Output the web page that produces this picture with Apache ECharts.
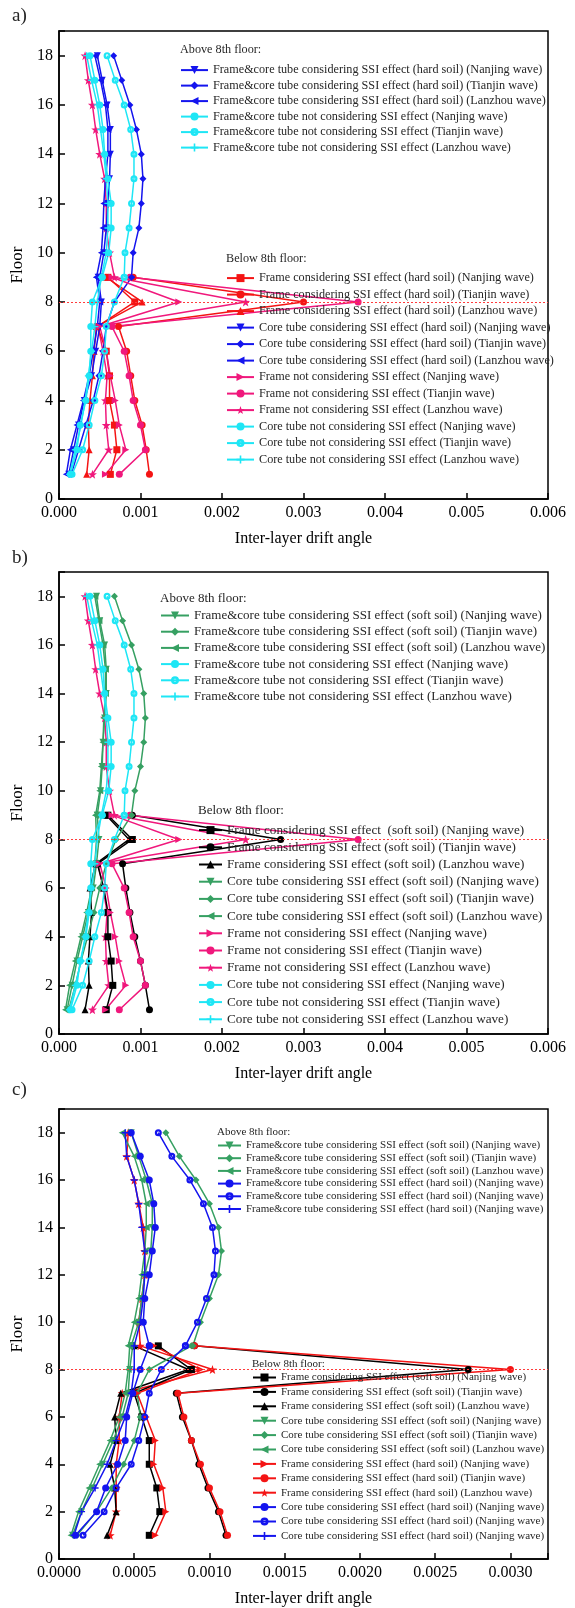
<!DOCTYPE html>
<html style="height: 100%">
<head>
    <meta charset="UTF-8">
    <title>Inter-layer drift angle</title>
    <script src="https://cdn.jsdelivr.net/npm/echarts/dist/echarts.min.js"></script>
    <style>
        #main { width: 575px; height: 1608px; }
    </style>
</head>
<body style="height: 100%; margin: 0; background: #fff">
    <div id="main"></div>
    <script type="text/javascript">
        // floors
        var floorsLow = [1, 2, 3, 4, 5, 6, 7, 8, 9];
        var floorsUp = [9, 10, 11, 12, 13, 14, 15, 16, 17, 18];
        var floorsAll = [1, 2, 3, 4, 5, 6, 7, 8, 9, 10, 11, 12, 13, 14, 15, 16, 17, 18];

        // shared "not considering SSI" results (panels a and b)
        var frameNotNanjing = [0.00057, 0.00082, 0.00074, 0.00069, 0.00063, 0.00058, 0.00050, 0.00147, 0.00065];
        var frameNotTianjin = [0.00074, 0.00106, 0.00100, 0.00091, 0.00086, 0.00080, 0.00065, 0.00367, 0.00087];
        var frameNotLanzhou = [0.00041, 0.00061, 0.00058, 0.00057, 0.00059, 0.00054, 0.00048, 0.00229, 0.00068,
            0.00062, 0.00058, 0.00058, 0.00056, 0.00050, 0.00045, 0.00041, 0.00036, 0.00032];
        var coreNotNanjing = [0.00014, 0.00022, 0.00026, 0.00033, 0.00037, 0.00039, 0.00039, 0.00041, 0.00053];
        var coreNotTianjin = [0.00016, 0.00029, 0.00037, 0.00044, 0.00052, 0.00056, 0.00058, 0.00068, 0.00080];
        var coreNotLanzhou = [0.00013, 0.00020, 0.00027, 0.00032, 0.00036, 0.00040, 0.00044, 0.00047, 0.00052];
        var fcNotNanjing = [0.00053, 0.00061, 0.00064, 0.00064, 0.00060, 0.00056, 0.00054, 0.00050, 0.00044, 0.00038];
        var fcNotTianjin = [0.00080, 0.00081, 0.00086, 0.00089, 0.00092, 0.00092, 0.00088, 0.00080, 0.00069, 0.00059];
        var fcNotLanzhou = [0.00052, 0.00058, 0.00060, 0.00060, 0.00058, 0.00055, 0.00051, 0.00047, 0.00040, 0.00034];

        // panel a: hard soil
        var aFrameHardNanjing = [0.00063, 0.00071, 0.00068, 0.00062, 0.00062, 0.00058, 0.00047, 0.00093, 0.00060];
        var aFrameHardTianjin = [0.00111, 0.00107, 0.00102, 0.00093, 0.00088, 0.00083, 0.00073, 0.00300, 0.00091];
        var aFrameHardLanzhou = [0.00034, 0.00037, 0.00036, 0.00038, 0.00041, 0.00043, 0.00046, 0.00102, 0.00058];
        var aCoreHardNanjing = [0.00012, 0.00018, 0.00024, 0.00031, 0.00040, 0.00045, 0.00050, 0.00052, 0.00048];
        var aCoreHardTianjin = [0.00015, 0.00024, 0.00033, 0.00042, 0.00049, 0.00054, 0.00058, 0.00068, 0.00089];
        var aCoreHardLanzhou = [0.00009, 0.00014, 0.00022, 0.00030, 0.00037, 0.00042, 0.00047, 0.00050, 0.00046];
        var aFcHardNanjing = [0.00050, 0.00055, 0.00058, 0.00060, 0.00062, 0.00063, 0.00063, 0.00059, 0.00053, 0.00047];
        var aFcHardTianjin = [0.00089, 0.00091, 0.00098, 0.00101, 0.00103, 0.00101, 0.00095, 0.00087, 0.00077, 0.00067];
        var aFcHardLanzhou = [0.00046, 0.00052, 0.00054, 0.00055, 0.00057, 0.00060, 0.00060, 0.00057, 0.00051, 0.00044];

        // panel b: soft soil
        var bFrameSoftNanjing = [0.00058, 0.00066, 0.00064, 0.00060, 0.00060, 0.00055, 0.00047, 0.00090, 0.00060];
        var bFrameSoftTianjin = [0.00111, 0.00106, 0.00100, 0.00093, 0.00087, 0.00082, 0.00078, 0.00272, 0.00090];
        var bFrameSoftLanzhou = [0.00032, 0.00037, 0.00036, 0.00038, 0.00040, 0.00038, 0.00045, 0.00086, 0.00058];
        var bCoreSoftNanjing = [0.00010, 0.00016, 0.00022, 0.00029, 0.00036, 0.00042, 0.00046, 0.00049, 0.00047];
        var bCoreSoftTianjin = [0.00012, 0.00020, 0.00027, 0.00035, 0.00043, 0.00050, 0.00058, 0.00070, 0.00089];
        var bCoreSoftLanzhou = [0.00008, 0.00013, 0.00020, 0.00027, 0.00034, 0.00040, 0.00044, 0.00046, 0.00045];
        var bFcSoftNanjing = [0.00047, 0.00051, 0.00053, 0.00054, 0.00056, 0.00058, 0.00058, 0.00056, 0.00050, 0.00046];
        var bFcSoftTianjin = [0.00089, 0.00093, 0.00100, 0.00104, 0.00106, 0.00104, 0.00098, 0.00089, 0.00078, 0.00068];
        var bFcSoftLanzhou = [0.00045, 0.00050, 0.00052, 0.00054, 0.00055, 0.00057, 0.00057, 0.00054, 0.00049, 0.00044];

        // panel c: soft vs hard soil
        var cFrameSoftNanjing = [0.00060, 0.00067, 0.00065, 0.00060, 0.00060, 0.00055, 0.00050, 0.00088, 0.00066];
        var cFrameSoftTianjin = [0.00111, 0.00106, 0.00099, 0.00093, 0.00088, 0.00082, 0.00078, 0.00272, 0.00090];
        var cFrameSoftLanzhou = [0.00032, 0.00038, 0.00037, 0.00034, 0.00038, 0.00037, 0.00041, 0.00086, 0.00050];
        var cCoreSoftNanjing = [0.00009, 0.00015, 0.00022, 0.00029, 0.00036, 0.00042, 0.00046, 0.00047, 0.00049];
        var cCoreSoftTianjin = [0.00012, 0.00025, 0.00035, 0.00043, 0.00050, 0.00054, 0.00052, 0.00060, 0.00088];
        var cCoreSoftLanzhou = [0.00008, 0.00013, 0.00020, 0.00027, 0.00034, 0.00040, 0.00044, 0.00046, 0.00047];
        var cFrameHardNanjing = [0.00064, 0.00071, 0.00069, 0.00063, 0.00064, 0.00058, 0.00052, 0.00094, 0.00063];
        var cFrameHardTianjin = [0.00112, 0.00107, 0.00100, 0.00094, 0.00088, 0.00083, 0.00079, 0.00300, 0.00090];
        var cFrameHardLanzhou = [0.00034, 0.00038, 0.00038, 0.00038, 0.00040, 0.00040, 0.00042, 0.00102, 0.00054,
            0.00053, 0.00055, 0.00057, 0.00057, 0.00056, 0.00053, 0.00050, 0.00045, 0.00046];
        var cCoreHardA = [0.00011, 0.00025, 0.00031, 0.00039, 0.00044, 0.00045, 0.00049, 0.00054, 0.00060];
        var cCoreHardB = [0.00016, 0.00030, 0.00038, 0.00048, 0.00053, 0.00057, 0.00060, 0.00068, 0.00084];
        var cCoreHardC = [0.00010, 0.00015, 0.00024, 0.00032, 0.00038, 0.00044, 0.00048, 0.00050, 0.00050];
        var cFcSoftNanjing = [0.00048, 0.00053, 0.00055, 0.00057, 0.00061, 0.00062, 0.00062, 0.00058, 0.00053, 0.00048];
        var cFcSoftTianjin = [0.00089, 0.00094, 0.00100, 0.00106, 0.00108, 0.00106, 0.00100, 0.00091, 0.00080, 0.00071];
        var cFcSoftLanzhou = [0.00046, 0.00050, 0.00053, 0.00055, 0.00057, 0.00058, 0.00058, 0.00055, 0.00050, 0.00042];
        var cFcHardA = [0.00060, 0.00056, 0.00057, 0.00060, 0.00062, 0.00064, 0.00063, 0.00060, 0.00054, 0.00048];
        var cFcHardB = [0.00084, 0.00092, 0.00098, 0.00103, 0.00104, 0.00102, 0.00096, 0.00087, 0.00075, 0.00066];
        var cFcHardC = [0.00050, 0.00054, 0.00056, 0.00057, 0.00057, 0.00055, 0.00053, 0.00050, 0.00045, 0.00044];

        var FONT = 'Liberation Serif';
        var BLUE = '#1414ee', CYAN = '#1ee6f5', RED = '#f41414', PINK = '#f0187c', GREEN = '#36a062', BLACK = '#000000';
        var SYM = {
            down: 'path://M0,0L10,0L5,9Z',
            left: 'path://M9,0L9,10L0,5Z',
            right: 'path://M0,0L0,10L9,5Z',
            up: 'triangle',
            diamond: 'diamond',
            square: 'rect',
            circle: 'circle',
            ring: 'path://M0,5A5,5,0,1,0,10,5A5,5,0,1,0,0,5ZM3.2,5A1.8,1.8,0,1,1,6.8,5A1.8,1.8,0,1,1,3.2,5Z',
            star: 'path://M10,0L12.35,6.76L19.51,6.91L13.8,11.24L15.88,18.09L10,14L4.12,18.09L6.2,11.24L0.49,6.91L7.65,6.76Z',
            plus: 'path://M4,0H6V4H10V6H6V10H4V6H0V4H4Z'
        };

        var series = [];
        var used = {};
        function addLine(grid, name, color, sym, floors, values, list) {
            var n = name;
            while (used[n]) n += ' ';
            used[n] = true;
            series.push({
                type: 'line',
                name: n,
                xAxisIndex: grid,
                yAxisIndex: grid,
                data: values.map(function (v, i) { return [v, floors[i]]; }),
                symbol: SYM[sym],
                symbolSize: sym === 'star' ? 9 : 7,
                lineStyle: { color: color, width: 1.5 },
                itemStyle: { color: color },
                animation: false
            });
            if (list) list.push(n);
        }

        var legUpA = [], legLowA = [], legUpB = [], legLowB = [], legUpC = [], legLowC = [];

        // ---- panel a ----
        var hide = [];
        addLine(0, 'Frame not considering SSI effect (Lanzhou wave)', PINK, 'star', floorsAll, frameNotLanzhou, hide);
        addLine(0, 'Frame considering SSI effect (hard soil) (Nanjing wave)', RED, 'square', floorsLow, aFrameHardNanjing, legLowA);
        addLine(0, 'Frame considering SSI effect (hard soil) (Tianjin wave)', RED, 'circle', floorsLow, aFrameHardTianjin, legLowA);
        addLine(0, 'Frame considering SSI effect (hard soil) (Lanzhou wave)', RED, 'up', floorsLow, aFrameHardLanzhou, legLowA);
        addLine(0, 'Core tube considering SSI effect (hard soil) (Nanjing wave)', BLUE, 'down', floorsLow, aCoreHardNanjing, legLowA);
        addLine(0, 'Core tube considering SSI effect (hard soil) (Tianjin wave)', BLUE, 'diamond', floorsLow, aCoreHardTianjin, legLowA);
        addLine(0, 'Core tube considering SSI effect (hard soil) (Lanzhou wave)', BLUE, 'left', floorsLow, aCoreHardLanzhou, legLowA);
        addLine(0, 'Frame not considering SSI effect (Nanjing wave)', PINK, 'right', floorsLow, frameNotNanjing, legLowA);
        addLine(0, 'Frame not considering SSI effect (Tianjin wave)', PINK, 'circle', floorsLow, frameNotTianjin, legLowA);
        legLowA.push(hide[0]);
        addLine(0, 'Core tube not considering SSI effect (Nanjing wave)', CYAN, 'circle', floorsLow, coreNotNanjing, legLowA);
        addLine(0, 'Core tube not considering SSI effect (Tianjin wave)', CYAN, 'ring', floorsLow, coreNotTianjin, legLowA);
        addLine(0, 'Core tube not considering SSI effect (Lanzhou wave)', CYAN, 'plus', floorsLow, coreNotLanzhou, legLowA);
        addLine(0, 'Frame&core tube considering SSI effect (hard soil) (Nanjing wave)', BLUE, 'down', floorsUp, aFcHardNanjing, legUpA);
        addLine(0, 'Frame&core tube considering SSI effect (hard soil) (Tianjin wave)', BLUE, 'diamond', floorsUp, aFcHardTianjin, legUpA);
        addLine(0, 'Frame&core tube considering SSI effect (hard soil) (Lanzhou wave)', BLUE, 'left', floorsUp, aFcHardLanzhou, legUpA);
        addLine(0, 'Frame&core tube not considering SSI effect (Nanjing wave)', CYAN, 'circle', floorsUp, fcNotNanjing, legUpA);
        addLine(0, 'Frame&core tube not considering SSI effect (Tianjin wave)', CYAN, 'ring', floorsUp, fcNotTianjin, legUpA);
        addLine(0, 'Frame&core tube not considering SSI effect (Lanzhou wave)', CYAN, 'plus', floorsUp, fcNotLanzhou, legUpA);

        // ---- panel b ----
        hide = [];
        addLine(1, 'Frame not considering SSI effect (Lanzhou wave)', PINK, 'star', floorsAll, frameNotLanzhou, hide);
        addLine(1, 'Frame considering SSI effect  (soft soil) (Nanjing wave)', BLACK, 'square', floorsLow, bFrameSoftNanjing, legLowB);
        addLine(1, 'Frame considering SSI effect (soft soil) (Tianjin wave)', BLACK, 'circle', floorsLow, bFrameSoftTianjin, legLowB);
        addLine(1, 'Frame considering SSI effect (soft soil) (Lanzhou wave)', BLACK, 'up', floorsLow, bFrameSoftLanzhou, legLowB);
        addLine(1, 'Core tube considering SSI effect (soft soil) (Nanjing wave)', GREEN, 'down', floorsLow, bCoreSoftNanjing, legLowB);
        addLine(1, 'Core tube considering SSI effect (soft soil) (Tianjin wave)', GREEN, 'diamond', floorsLow, bCoreSoftTianjin, legLowB);
        addLine(1, 'Core tube considering SSI effect (soft soil) (Lanzhou wave)', GREEN, 'left', floorsLow, bCoreSoftLanzhou, legLowB);
        addLine(1, 'Frame not considering SSI effect (Nanjing wave)', PINK, 'right', floorsLow, frameNotNanjing, legLowB);
        addLine(1, 'Frame not considering SSI effect (Tianjin wave)', PINK, 'circle', floorsLow, frameNotTianjin, legLowB);
        legLowB.push(hide[0]);
        addLine(1, 'Core tube not considering SSI effect (Nanjing wave)', CYAN, 'circle', floorsLow, coreNotNanjing, legLowB);
        addLine(1, 'Core tube not considering SSI effect (Tianjin wave)', CYAN, 'ring', floorsLow, coreNotTianjin, legLowB);
        addLine(1, 'Core tube not considering SSI effect (Lanzhou wave)', CYAN, 'plus', floorsLow, coreNotLanzhou, legLowB);
        addLine(1, 'Frame&core tube considering SSI effect (soft soil) (Nanjing wave)', GREEN, 'down', floorsUp, bFcSoftNanjing, legUpB);
        addLine(1, 'Frame&core tube considering SSI effect (soft soil) (Tianjin wave)', GREEN, 'diamond', floorsUp, bFcSoftTianjin, legUpB);
        addLine(1, 'Frame&core tube considering SSI effect (soft soil) (Lanzhou wave)', GREEN, 'left', floorsUp, bFcSoftLanzhou, legUpB);
        addLine(1, 'Frame&core tube not considering SSI effect (Nanjing wave)', CYAN, 'circle', floorsUp, fcNotNanjing, legUpB);
        addLine(1, 'Frame&core tube not considering SSI effect (Tianjin wave)', CYAN, 'ring', floorsUp, fcNotTianjin, legUpB);
        addLine(1, 'Frame&core tube not considering SSI effect (Lanzhou wave)', CYAN, 'plus', floorsUp, fcNotLanzhou, legUpB);

        // ---- panel c ----
        hide = [];
        addLine(2, 'Frame considering SSI effect (hard soil) (Lanzhou wave)', RED, 'star', floorsAll, cFrameHardLanzhou, hide);
        addLine(2, 'Frame considering SSI effect (soft soil) (Nanjing wave)', BLACK, 'square', floorsLow, cFrameSoftNanjing, legLowC);
        addLine(2, 'Frame considering SSI effect (soft soil) (Tianjin wave)', BLACK, 'circle', floorsLow, cFrameSoftTianjin, legLowC);
        addLine(2, 'Frame considering SSI effect (soft soil) (Lanzhou wave)', BLACK, 'up', floorsLow, cFrameSoftLanzhou, legLowC);
        addLine(2, 'Core tube considering SSI effect (soft soil) (Nanjing wave)', GREEN, 'down', floorsLow, cCoreSoftNanjing, legLowC);
        addLine(2, 'Core tube considering SSI effect (soft soil) (Tianjin wave)', GREEN, 'diamond', floorsLow, cCoreSoftTianjin, legLowC);
        addLine(2, 'Core tube considering SSI effect (soft soil) (Lanzhou wave)', GREEN, 'left', floorsLow, cCoreSoftLanzhou, legLowC);
        addLine(2, 'Frame considering SSI effect (hard soil) (Nanjing wave)', RED, 'right', floorsLow, cFrameHardNanjing, legLowC);
        addLine(2, 'Frame considering SSI effect (hard soil) (Tianjin wave)', RED, 'circle', floorsLow, cFrameHardTianjin, legLowC);
        legLowC.push(hide[0]);
        addLine(2, 'Core tube considering SSI effect (hard soil) (Nanjing wave)', BLUE, 'circle', floorsLow, cCoreHardA, legLowC);
        addLine(2, 'Core tube considering SSI effect (hard soil) (Nanjing wave)', BLUE, 'ring', floorsLow, cCoreHardB, legLowC);
        addLine(2, 'Core tube considering SSI effect (hard soil) (Nanjing wave)', BLUE, 'plus', floorsLow, cCoreHardC, legLowC);
        addLine(2, 'Frame&core tube considering SSI effect (soft soil) (Nanjing wave)', GREEN, 'down', floorsUp, cFcSoftNanjing, legUpC);
        addLine(2, 'Frame&core tube considering SSI effect (soft soil) (Tianjin wave)', GREEN, 'diamond', floorsUp, cFcSoftTianjin, legUpC);
        addLine(2, 'Frame&core tube considering SSI effect (soft soil) (Lanzhou wave)', GREEN, 'left', floorsUp, cFcSoftLanzhou, legUpC);
        addLine(2, 'Frame&core tube considering SSI effect (hard soil) (Nanjing wave)', BLUE, 'circle', floorsUp, cFcHardA, legUpC);
        addLine(2, 'Frame&core tube considering SSI effect (hard soil) (Nanjing wave)', BLUE, 'ring', floorsUp, cFcHardB, legUpC);
        addLine(2, 'Frame&core tube considering SSI effect (hard soil) (Nanjing wave)', BLUE, 'plus', floorsUp, cFcHardC, legUpC);

        // dotted reference line at floor 8 in each panel
        [0, 1, 2].forEach(function (g) {
            series.push({
                type: 'line', xAxisIndex: g, yAxisIndex: g, data: [], silent: true, animation: false,
                markLine: {
                    silent: true, symbol: 'none', animation: false,
                    label: { show: false },
                    lineStyle: { color: '#ff3c3c', type: [2, 2], width: 1 },
                    data: [{ yAxis: 8 }]
                }
            });
        });

        var grids = [
            { left: 59, right: 27, top: 31, height: 468 },
            { left: 59, right: 27, top: 572, height: 462 },
            { left: 59, right: 27, top: 1109, height: 452 }
        ];

        function xAxisFor(g, max, interval, digits) {
            return {
                gridIndex: g, type: 'value', min: 0, max: max, interval: interval,
                name: 'Inter-layer drift angle', nameLocation: 'middle', nameGap: 32,
                nameTextStyle: { fontFamily: FONT, fontSize: 16, color: '#000' },
                axisLine: { lineStyle: { color: '#000', width: 1.5 } },
                axisTick: { inside: true, length: 6, lineStyle: { color: '#000', width: 1.5 } },
                axisLabel: {
                    fontFamily: FONT, fontSize: 16, color: '#000', margin: 6,
                    formatter: function (v) {
                        var k = v / interval;
                        return Math.abs(k - Math.round(k)) < 1e-6 ? v.toFixed(digits) : '';
                    }
                },
                splitLine: { show: false }
            };
        }
        function yAxisFor(g) {
            return {
                gridIndex: g, type: 'value', min: 0, max: 19, interval: 2,
                name: 'Floor', nameLocation: 'middle', nameGap: 23,
                nameTextStyle: { fontFamily: FONT, fontSize: 17, color: '#000' },
                axisLine: { lineStyle: { color: '#000', width: 1.5 } },
                axisTick: { inside: true, length: 6, lineStyle: { color: '#000', width: 1.5 } },
                axisLabel: {
                    fontFamily: FONT, fontSize: 16, color: '#000', margin: 6,
                    formatter: function (v) { return v % 2 === 0 ? String(v) : ''; }
                },
                splitLine: { show: false }
            };
        }

        function legendAt(left, top, names, size, gap, width) {
            return {
                orient: 'vertical', left: left, top: top, padding: 0,
                itemWidth: width, itemHeight: 10, itemGap: gap, selectedMode: false,
                data: names,
                textStyle: { fontFamily: FONT, fontSize: size, color: '#262626', lineHeight: Math.max(size, 11) }
            };
        }

        function label(text, left, top, size) {
            return { type: 'text', left: left, top: top, style: { text: text, fontFamily: FONT, fontSize: size, fill: '#262626' } };
        }

        var chartDom = document.getElementById('main');
        var myChart = echarts.init(chartDom);
        var option = {
            backgroundColor: '#fff',
            animation: false,
            grid: grids.map(function (g) {
                return Object.assign({ show: true, borderColor: '#000', borderWidth: 1.5, backgroundColor: 'transparent' }, g);
            }),
            xAxis: [xAxisFor(0, 0.006, 0.001, 3), xAxisFor(1, 0.006, 0.001, 3), xAxisFor(2, 0.00325, 0.0005, 4)],
            yAxis: [yAxisFor(0), yAxisFor(1), yAxisFor(2)],
            legend: [
                legendAt(180, 64, legUpA, 12.2, 3.3, 27),
                legendAt(226, 272, legLowA, 12.2, 4.3, 27),
                legendAt(160, 609, legUpB, 13, 3.2, 28),
                legendAt(198, 823.5, legLowB, 13.2, 4, 23),
                legendAt(217, 1140, legUpC, 11, 1.7, 23),
                legendAt(252, 1372, legLowC, 11, 3.4, 23)
            ],
            graphic: [
                label('a)', 12, 7, 19),
                label('b)', 12, 549, 19),
                label('c)', 12, 1081, 19),
                label('Above 8th floor:', 180, 44, 12.2),
                label('Below 8th floor:', 226, 253, 12.2),
                label('Above 8th floor:', 160, 592, 13),
                label('Below 8th floor:', 198, 804, 13),
                label('Above 8th floor:', 217, 1127, 11),
                label('Below 8th floor:', 252, 1359, 11)
            ],
            series: series
        };

        myChart.setOption(option);
    </script>
</body>
</html>
